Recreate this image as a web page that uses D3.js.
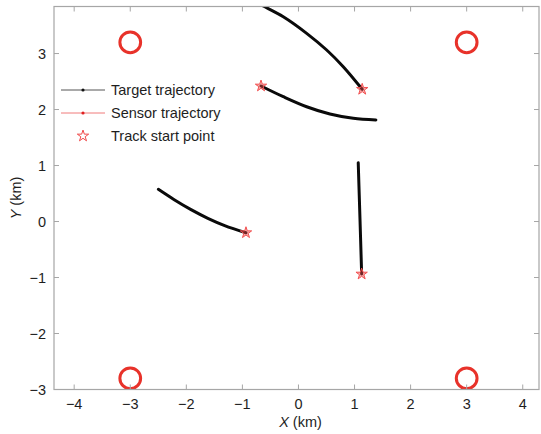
<!DOCTYPE html>
<html>
<head>
<meta charset="utf-8">
<script src="https://cdn.jsdelivr.net/npm/d3@7/dist/d3.min.js"></script>
<style>
  html, body { margin: 0; padding: 0; background: #fff; }
  svg { display: block; font-family: "Liberation Sans", Arial, sans-serif; }
</style>
</head>
<body>
<svg id="chart" width="541" height="434"></svg>
<script>
// Axis ranges and tick labels (km)
const xDomain = [-4.36, 4.29];
const yDomain = [-3.0, 3.84];
const xTicks = [-4, -3, -2, -1, 0, 1, 2, 3, 4];
const yTicks = [-3, -2, -1, 0, 1, 2, 3];

// Sensor positions (km) and the radius of their circular track
const sensorX = [-3, 3, -3, 3];
const sensorY = [3.2, 3.2, -2.8, -2.8];
const sensorRadius = 0.185;

// Target trajectories, each starting at its track start point
const track1 = [[1.137, 2.361], [0.799, 2.764], [0.503, 3.063], [0.146, 3.361], [-0.271, 3.657], [-0.638, 3.854], [-0.72, 3.90]];
const track2 = [[-0.668, 2.420], [-0.271, 2.229], [0.146, 2.050], [0.561, 1.920], [0.977, 1.843], [1.381, 1.813]];
const track3 = [[-0.936, -0.200], [-1.316, -0.072], [-1.616, 0.058], [-1.916, 0.213], [-2.216, 0.390], [-2.499, 0.575]];
const track4 = [[1.127, -0.938], [1.096, 0.086], [1.066, 1.050]];
const tracks = [track1, track2, track3, track4];

const legendLabels = ["Target trajectory", "Sensor trajectory", "Track start point"];

const svg = d3.select("#chart");
const box = { left: 54, right: 539, top: 6.5, bottom: 389.5 };

const x = d3.scaleLinear().domain(xDomain).range([box.left, box.right]);
const y = d3.scaleLinear().domain(yDomain).range([box.bottom, box.top]);

const axisColor = "#a6a6a6";
const textColor = "#1e1e1e";

svg.append("defs").append("clipPath").attr("id", "plotClip")
  .append("rect").attr("x", box.left).attr("y", box.top)
  .attr("width", box.right - box.left).attr("height", box.bottom - box.top);

const plot = svg.append("g").attr("clip-path", "url(#plotClip)");

// Sensor circles
plot.selectAll("circle.sensor")
  .data(sensorX.map((d, i) => [d, sensorY[i]]))
  .join("circle")
  .attr("class", "sensor")
  .attr("cx", d => x(d[0]))
  .attr("cy", d => y(d[1]))
  .attr("r", x(sensorRadius) - x(0))
  .attr("fill", "none")
  .attr("stroke", "#e8322a")
  .attr("stroke-width", 3);

// Target trajectories
const line = d3.line().x(d => x(d[0])).y(d => y(d[1])).curve(d3.curveCatmullRom.alpha(0.5));
plot.selectAll("path.track")
  .data(tracks)
  .join("path")
  .attr("class", "track")
  .attr("d", line)
  .attr("fill", "none")
  .attr("stroke", "#0a0a0a")
  .attr("stroke-width", 3)
  .attr("stroke-linecap", "round");

// Track start points
const star = d3.symbol().type(d3.symbolStar).size(40);
plot.selectAll("path.start")
  .data(tracks.map(t => t[0]))
  .join("path")
  .attr("class", "start")
  .attr("transform", d => `translate(${x(d[0])},${y(d[1])})`)
  .attr("d", star)
  .attr("fill", "rgba(240,70,70,0.45)")
  .attr("stroke", "#f25050")
  .attr("stroke-width", 1);

// Axes box with inward ticks on all sides
const tickLen = 5;
const axisG = svg.append("g");
axisG.append("rect")
  .attr("x", box.left).attr("y", box.top)
  .attr("width", box.right - box.left).attr("height", box.bottom - box.top)
  .attr("fill", "none").attr("stroke", axisColor).attr("stroke-width", 1.2);

const fmt = d => (d < 0 ? "\u2212" + Math.abs(d) : String(d));

xTicks.forEach(t => {
  const px = x(t);
  axisG.append("line").attr("x1", px).attr("x2", px).attr("y1", box.bottom).attr("y2", box.bottom - tickLen)
    .attr("stroke", axisColor);
  axisG.append("line").attr("x1", px).attr("x2", px).attr("y1", box.top).attr("y2", box.top + tickLen)
    .attr("stroke", axisColor);
  axisG.append("text").attr("x", px).attr("y", box.bottom + 19)
    .attr("text-anchor", "middle").attr("font-size", 14.5).attr("fill", textColor)
    .text(fmt(t));
});

yTicks.forEach(t => {
  const py = y(t);
  axisG.append("line").attr("x1", box.left).attr("x2", box.left + tickLen).attr("y1", py).attr("y2", py)
    .attr("stroke", axisColor);
  axisG.append("line").attr("x1", box.right).attr("x2", box.right - tickLen).attr("y1", py).attr("y2", py)
    .attr("stroke", axisColor);
  axisG.append("text").attr("x", box.left - 8).attr("y", py + 5)
    .attr("text-anchor", "end").attr("font-size", 14.5).attr("fill", textColor)
    .text(fmt(t));
});

// Axis titles
const xt = svg.append("text").attr("x", (box.left + box.right) / 2 + 4).attr("y", 427)
  .attr("text-anchor", "middle").attr("font-size", 14.5).attr("fill", textColor);
xt.append("tspan").attr("font-style", "italic").text("X");
xt.append("tspan").text(" (km)");

const yt = svg.append("text")
  .attr("transform", `translate(21,${(box.top + box.bottom) / 2}) rotate(-90)`)
  .attr("text-anchor", "middle").attr("font-size", 14.5).attr("fill", textColor);
yt.append("tspan").attr("font-style", "italic").text("Y");
yt.append("tspan").text(" (km)");

// Legend
const legend = svg.append("g");
const rowsY = [90, 113, 136];
const lx0 = 61, lx1 = 105, lxm = 83, ltx = 111;

// Target trajectory entry
legend.append("line").attr("x1", lx0).attr("x2", lx1).attr("y1", rowsY[0]).attr("y2", rowsY[0])
  .attr("stroke", "#555").attr("stroke-width", 1);
legend.append("circle").attr("cx", lxm).attr("cy", rowsY[0]).attr("r", 1.6).attr("fill", "#111");

// Sensor trajectory entry
legend.append("line").attr("x1", lx0).attr("x2", lx1).attr("y1", rowsY[1]).attr("y2", rowsY[1])
  .attr("stroke", "#f07a7a").attr("stroke-width", 1);
legend.append("circle").attr("cx", lxm).attr("cy", rowsY[1]).attr("r", 1.6).attr("fill", "#e02020");

// Track start point entry
legend.append("path").attr("transform", `translate(${lxm},${rowsY[2]})`)
  .attr("d", d3.symbol().type(d3.symbolStar).size(40))
  .attr("fill", "none").attr("stroke", "#f04a4a").attr("stroke-width", 1);

legend.selectAll("text.lab")
  .data(legendLabels)
  .join("text")
  .attr("class", "lab")
  .attr("x", ltx)
  .attr("y", (d, i) => rowsY[i] + 5)
  .attr("font-size", 14.5)
  .attr("fill", textColor)
  .text(d => d);
</script>
</body>
</html>
